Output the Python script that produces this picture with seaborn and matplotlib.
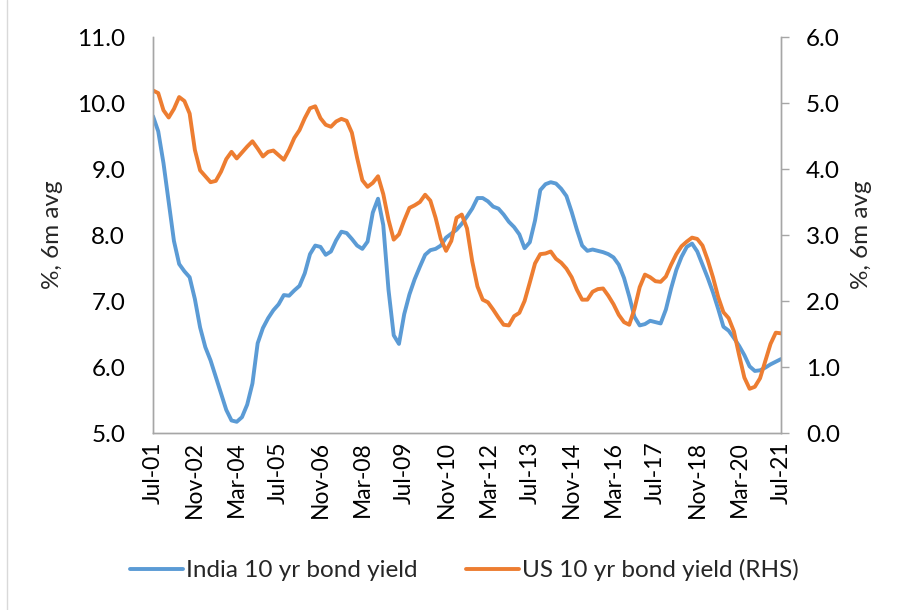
import numpy as np
import pandas as pd
import seaborn as sns
import matplotlib.pyplot as plt
from matplotlib.lines import Line2D

# bi-monthly observations, Jul-01 .. Jul-21 (6m averages)
dates = pd.date_range("2001-07-01", "2021-07-01", freq="2MS")

india_yield = [
    9.80, 9.57, 9.09, 8.50, 7.91, 7.56, 7.45, 7.36, 7.03, 6.60,
    6.30, 6.10, 5.85, 5.60, 5.35, 5.19, 5.17, 5.24, 5.43, 5.75,
    6.36, 6.59, 6.74, 6.86, 6.95, 7.09, 7.08, 7.16, 7.23, 7.42,
    7.71, 7.84, 7.82, 7.70, 7.75, 7.92, 8.05, 8.03, 7.94, 7.84,
    7.79, 7.90, 8.34, 8.55, 8.15, 7.17, 6.48, 6.35, 6.80, 7.10,
    7.33, 7.52, 7.70, 7.77, 7.79, 7.84, 7.96, 8.02, 8.08, 8.17,
    8.28, 8.40, 8.56, 8.56, 8.51, 8.43, 8.40, 8.31, 8.20, 8.12,
    8.01, 7.80, 7.89, 8.22, 8.68, 8.77, 8.80, 8.78, 8.70, 8.59,
    8.35, 8.08, 7.84, 7.76, 7.78, 7.76, 7.74, 7.71, 7.66, 7.55,
    7.35, 7.07, 6.76, 6.63, 6.65, 6.70, 6.68, 6.66, 6.87, 7.19,
    7.47, 7.67, 7.82, 7.87, 7.75, 7.55, 7.35, 7.13, 6.88, 6.61,
    6.55, 6.44, 6.32, 6.18, 6.01, 5.94, 5.95, 5.99, 6.04, 6.08,
    6.12,
]

us_yield = [
    5.19, 5.15, 4.89, 4.78, 4.91, 5.09, 5.03, 4.84, 4.29, 3.98,
    3.89, 3.80, 3.82, 3.96, 4.15, 4.26, 4.16, 4.25, 4.34, 4.42,
    4.31, 4.19, 4.26, 4.28, 4.21, 4.14, 4.29, 4.47, 4.59, 4.77,
    4.92, 4.95, 4.77, 4.67, 4.64, 4.72, 4.76, 4.73, 4.55, 4.17,
    3.83, 3.73, 3.79, 3.89, 3.62, 3.23, 2.93, 3.01, 3.22, 3.41,
    3.45, 3.50, 3.61, 3.52, 3.26, 2.94, 2.76, 2.91, 3.26, 3.31,
    3.10, 2.60, 2.22, 2.02, 1.98, 1.87, 1.75, 1.64, 1.63, 1.77,
    1.82, 2.00, 2.28, 2.57, 2.71, 2.72, 2.75, 2.64, 2.58, 2.49,
    2.36, 2.17, 2.02, 2.02, 2.14, 2.18, 2.19, 2.08, 1.95, 1.79,
    1.68, 1.64, 1.88, 2.21, 2.40, 2.36, 2.30, 2.29, 2.37, 2.55,
    2.71, 2.83, 2.90, 2.96, 2.94, 2.84, 2.62, 2.36, 2.06, 1.83,
    1.74, 1.54, 1.18, 0.84, 0.67, 0.70, 0.83, 1.09, 1.35, 1.52,
    1.51,
]

india_label = "India 10 yr bond yield"
us_label = "US 10 yr bond yield (RHS)"
blue = "#5B9BD5"
orange = "#ED7D31"

df = pd.DataFrame({"date": dates, "india": india_yield, "us": us_yield})
df["month"] = np.arange(len(df)) * 2

sns.set_style("white")
plt.rcParams["font.family"] = ["Lato", "DejaVu Sans"]

fig = plt.figure(figsize=(9.04, 6.10), dpi=100)
ax = fig.add_axes([153 / 904, 1 - 433 / 610, 628 / 904, 396 / 610])
ax2 = ax.twinx()

sns.lineplot(data=df, x="month", y="india", ax=ax, color=blue, linewidth=2.8)
sns.lineplot(data=df, x="month", y="us", ax=ax2, color=orange, linewidth=2.8)

# axes
ax.set_xlim(0, 240)
ax.set_ylim(5, 11)
ax2.set_ylim(0, 6)
ax.set_yticks(np.arange(5, 11.1, 1))
ax2.set_yticks(np.arange(0, 6.1, 1))
ax.set_yticklabels([f"{v:.1f}" for v in np.arange(5, 11.1, 1)])
ax2.set_yticklabels([f"{v:.1f}" for v in np.arange(0, 6.1, 1)])

tick_pos = df["month"][::8]
ax.set_xticks(tick_pos)
ax.set_xticklabels(df["date"][::8].dt.strftime("%b-%y"), rotation=90)

ax.set_xlabel("")
ax.set_ylabel("%, 6m avg", fontsize=17.5, labelpad=10)
ax2.set_ylabel("%, 6m avg", fontsize=17.5, labelpad=8)

spine_col = "#A6A6A6"
for a in (ax, ax2):
    for s in a.spines.values():
        s.set_color(spine_col)
        s.set_linewidth(1.0)
    a.spines["top"].set_visible(False)

ax.tick_params(axis="x", length=0, pad=6, labelsize=16.5, colors="black")
ax.tick_params(axis="y", length=0, pad=20, labelsize=17.5, colors="black")
ax2.tick_params(axis="y", length=6, width=1, color=spine_col, pad=12,
                labelsize=17.5, labelcolor="black", direction="out")
ax.grid(False)
ax2.grid(False)

# legend below the plot
handles = [Line2D([], [], color=blue, lw=2.8), Line2D([], [], color=orange, lw=2.8)]
fig.legend(handles, [india_label, us_label], loc="center", ncol=2,
           bbox_to_anchor=(464 / 904, 1 - 570 / 610), frameon=False, fontsize=17.5,
           handlelength=2.2, handletextpad=0.1, columnspacing=2.0)

# chart area border on the left
fig.add_artist(Line2D([7 / 904, 7 / 904], [0, 1], color="#D9D9D9", lw=1))

fig.savefig("out.png", dpi=100)
